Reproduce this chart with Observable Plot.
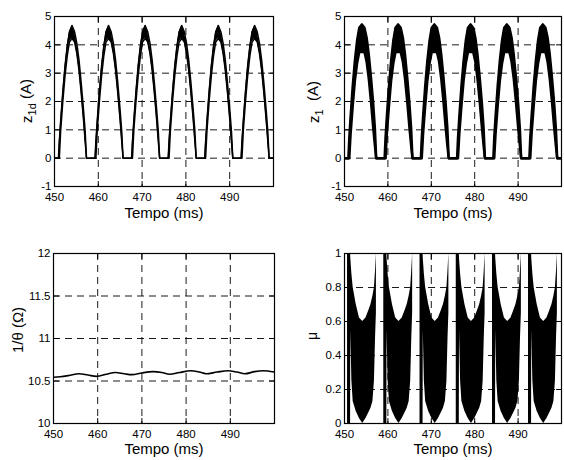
<!DOCTYPE html>
<html><head><meta charset="utf-8">
<script src="https://cdn.jsdelivr.net/npm/d3@7"></script>
<script src="https://cdn.jsdelivr.net/npm/@observablehq/plot@0.6"></script>
<style>
body{margin:0;background:#fff;}
#wrap{position:relative;width:564px;height:460px;font-family:"Liberation Sans",Arial,sans-serif;}
.cell{position:absolute;width:282px;height:230px;}
.cell svg{overflow:visible;display:block;}
</style></head><body><div id="wrap"></div>
<script>
// ---------- axes ----------
const xTicks = [450, 460, 470, 480, 490];
const xGrid = [460, 470, 480, 490];
const xLabel = "Tempo (ms)";
const zTicks = [-1, 0, 1, 2, 3, 4, 5];
const zGrid = [0, 1, 2, 3, 4];
const thetaTicks = [10, 10.5, 11, 11.5, 12];
const thetaGrid = [10.5, 11, 11.5];
const muTicks = [0, 0.2, 0.4, 0.6, 0.8, 1];
const muGrid = [0.2, 0.4, 0.6, 0.8];

// ---------- z1d and z1 (upper / lower envelope of ripple band) ----------
const zT = [450,
 450.9,451.1,451.4,451.9,452.4,452.9,453.4,454.0,454.6,455.1,455.6,456.1,456.6,457.0,457.3,
 459.25,459.45,459.75,460.25,460.75,461.25,461.75,462.35,462.95,463.45,463.95,464.45,464.95,465.35,465.65,
 467.6,467.8,468.1,468.6,469.1,469.6,470.1,470.7,471.3,471.8,472.3,472.8,473.3,473.7,474.0,
 475.95,476.15,476.45,476.95,477.45,477.95,478.45,479.05,479.65,480.15,480.65,481.15,481.65,482.05,482.35,
 484.3,484.5,484.8,485.3,485.8,486.3,486.8,487.4,488.0,488.5,489.0,489.5,490.0,490.4,490.7,
 492.6,492.8,493.1,493.6,494.1,494.6,495.1,495.7,496.3,496.8,497.3,497.8,498.3,498.7,499.0,
 500];
const z1dHi = [0,
 0,0.6,1.3,2.35,3.25,3.95,4.45,4.68,4.45,4.05,3.45,2.65,1.75,0.95,0,
 0,0.6,1.3,2.35,3.25,3.95,4.45,4.68,4.45,4.05,3.45,2.65,1.75,0.95,0,
 0,0.6,1.3,2.35,3.25,3.95,4.45,4.68,4.45,4.05,3.45,2.65,1.75,0.95,0,
 0,0.6,1.3,2.35,3.25,3.95,4.45,4.68,4.45,4.05,3.45,2.65,1.75,0.95,0,
 0,0.6,1.3,2.35,3.25,3.95,4.45,4.68,4.45,4.05,3.45,2.65,1.75,0.95,0,
 0,0.6,1.3,2.35,3.25,3.95,4.45,4.68,4.45,4.05,3.45,2.65,1.75,0.95,0,
 0];
const z1dLo = [0,
 0,0,0.95,2.0,2.9,3.6,4.1,4.22,4.1,3.7,3.1,2.3,1.4,0.6,0,
 0,0,0.95,2.0,2.9,3.6,4.1,4.22,4.1,3.7,3.1,2.3,1.4,0.6,0,
 0,0,0.95,2.0,2.9,3.6,4.1,4.22,4.1,3.7,3.1,2.3,1.4,0.6,0,
 0,0,0.95,2.0,2.9,3.6,4.1,4.22,4.1,3.7,3.1,2.3,1.4,0.6,0,
 0,0,0.95,2.0,2.9,3.6,4.1,4.22,4.1,3.7,3.1,2.3,1.4,0.6,0,
 0,0,0.95,2.0,2.9,3.6,4.1,4.22,4.1,3.7,3.1,2.3,1.4,0.6,0,
 0];
const z1Hi = [0,
 0,0.7,1.45,2.55,3.45,4.15,4.6,4.72,4.6,4.25,3.65,2.85,1.95,1.05,0,
 0,0.7,1.45,2.55,3.45,4.15,4.6,4.72,4.6,4.25,3.65,2.85,1.95,1.05,0,
 0,0.7,1.45,2.55,3.45,4.15,4.6,4.72,4.6,4.25,3.65,2.85,1.95,1.05,0,
 0,0.7,1.45,2.55,3.45,4.15,4.6,4.72,4.6,4.25,3.65,2.85,1.95,1.05,0,
 0,0.7,1.45,2.55,3.45,4.15,4.6,4.72,4.6,4.25,3.65,2.85,1.95,1.05,0,
 0,0.7,1.45,2.55,3.45,4.15,4.6,4.72,4.6,4.25,3.65,2.85,1.95,1.05,0,
 0];
const z1Lo = [0,
 0,0,0.85,1.85,2.75,3.35,3.75,3.75,3.75,3.4,2.8,2.0,1.1,0.45,0,
 0,0,0.85,1.85,2.75,3.35,3.75,3.75,3.75,3.4,2.8,2.0,1.1,0.45,0,
 0,0,0.85,1.85,2.75,3.35,3.75,3.75,3.75,3.4,2.8,2.0,1.1,0.45,0,
 0,0,0.85,1.85,2.75,3.35,3.75,3.75,3.75,3.4,2.8,2.0,1.1,0.45,0,
 0,0,0.85,1.85,2.75,3.35,3.75,3.75,3.75,3.4,2.8,2.0,1.1,0.45,0,
 0,0,0.85,1.85,2.75,3.35,3.75,3.75,3.75,3.4,2.8,2.0,1.1,0.45,0,
 0];

// ---------- 1/theta ----------
const thetaT = [450,451.5,453.5,455.7,457.8,459.8,462,464,466,467.8,470,472.5,474.5,476.2,478.5,481,483,484.5,487,489.5,491.5,493.3,495.5,497.5,500];
const thetaV = [10.545,10.55,10.565,10.585,10.57,10.555,10.58,10.6,10.585,10.575,10.595,10.61,10.6,10.58,10.6,10.62,10.605,10.585,10.605,10.62,10.605,10.585,10.61,10.62,10.605];

// ---------- mu (switching band: lower / upper envelope per pulse) ----------
const muT = [
 450.7,451.4,451.45,451.7,452.0,452.7,453.45,454.2,454.95,455.55,456.1,456.55,456.9,457.15,457.35,
 459.05,459.75,459.8,460.05,460.35,461.05,461.8,462.55,463.3,463.9,464.45,464.9,465.25,465.5,465.7,
 467.4,468.1,468.15,468.4,468.7,469.4,470.15,470.9,471.65,472.25,472.8,473.25,473.6,473.85,474.05,
 475.75,476.45,476.5,476.75,477.05,477.75,478.5,479.25,480.0,480.6,481.15,481.6,481.95,482.2,482.4,
 484.1,484.8,484.85,485.1,485.4,486.1,486.85,487.6,488.35,488.95,489.5,489.95,490.3,490.55,490.75,
 492.4,493.1,493.15,493.4,493.7,494.4,495.15,495.9,496.65,497.25,497.8,498.25,498.6,498.85,499.05];
const muHi = [
 1,1,0.97,0.88,0.8,0.7,0.62,0.6,0.62,0.66,0.7,0.75,0.8,0.9,1,
 1,1,0.97,0.88,0.8,0.7,0.62,0.6,0.62,0.66,0.7,0.75,0.8,0.9,1,
 1,1,0.97,0.88,0.8,0.7,0.62,0.6,0.62,0.66,0.7,0.75,0.8,0.9,1,
 1,1,0.97,0.88,0.8,0.7,0.62,0.6,0.62,0.66,0.7,0.75,0.8,0.9,1,
 1,1,0.97,0.88,0.8,0.7,0.62,0.6,0.62,0.66,0.7,0.75,0.8,0.9,1,
 1,1,0.97,0.88,0.8,0.7,0.62,0.6,0.62,0.66,0.7,0.75,0.8,0.9,1];
const muLo = [
 0,0,0.55,0.25,0.13,0.07,0.03,0,0.03,0.06,0.09,0.13,0.25,0.5,0.65,
 0,0,0.55,0.25,0.13,0.07,0.03,0,0.03,0.06,0.09,0.13,0.25,0.5,0.65,
 0,0,0.55,0.25,0.13,0.07,0.03,0,0.03,0.06,0.09,0.13,0.25,0.5,0.65,
 0,0,0.55,0.25,0.13,0.07,0.03,0,0.03,0.06,0.09,0.13,0.25,0.5,0.65,
 0,0,0.55,0.25,0.13,0.07,0.03,0,0.03,0.06,0.09,0.13,0.25,0.5,0.65,
 0,0,0.55,0.25,0.13,0.07,0.03,0,0.03,0.06,0.09,0.13,0.25,0.5,0.65];
const muPulse = [
 1,1,1,1,1,1,1,1,1,1,1,1,1,1,1,
 2,2,2,2,2,2,2,2,2,2,2,2,2,2,2,
 3,3,3,3,3,3,3,3,3,3,3,3,3,3,3,
 4,4,4,4,4,4,4,4,4,4,4,4,4,4,4,
 5,5,5,5,5,5,5,5,5,5,5,5,5,5,5,
 6,6,6,6,6,6,6,6,6,6,6,6,6,6,6];

// ---------- drawing ----------
const FONT = 'Arial, "Liberation Sans", Helvetica, sans-serif';
const tickShape = {draw(ctx, l) { ctx.moveTo(0, 0); ctx.lineTo(0, -l); }};
const dash = {stroke: "black", strokeOpacity: 1, strokeWidth: 0.9, strokeDasharray: "7,5"};
const tk = {stroke: "black", strokeWidth: 1, length: 5, anchor: "start", shape: tickShape};

function panel({left, top, mL, mR, mT, mB, yDomain, yTicks, yGrid, dataMarks, xlabDy, ylab}) {
  const div = document.createElement("div");
  div.className = "cell";
  div.style.left = left + "px";
  div.style.top = top + "px";
  const svg = Plot.plot({
    width: 282, height: 230,
    marginLeft: mL, marginRight: mR, marginTop: mT, marginBottom: mB,
    style: {fontFamily: FONT, fontSize: "12px", color: "black", background: "transparent", overflow: "visible"},
    x: {domain: [450, 500], axis: null},
    y: {domain: yDomain, axis: null},
    marks: [
      Plot.gridX(xGrid, dash),
      Plot.gridY(yGrid, dash),
      ...dataMarks,
      Plot.vector(xGrid, {x: d => d, frameAnchor: "bottom", rotate: 0, ...tk}),
      Plot.vector(xGrid, {x: d => d, frameAnchor: "top", rotate: 180, ...tk}),
      Plot.vector(yGrid, {y: d => d, frameAnchor: "left", rotate: 90, ...tk}),
      Plot.vector(yGrid, {y: d => d, frameAnchor: "right", rotate: -90, ...tk}),
      Plot.frame({stroke: "black", strokeWidth: 1.2}),
      Plot.axisX(xTicks, {anchor: "bottom", tickSize: 0, tickPadding: 6, fontSize: 11.5, label: null, tickFormat: d => `${d}`}),
      Plot.axisY(yTicks, {anchor: "left", tickSize: 0, tickPadding: 3, fontSize: 11.5, label: null, tickFormat: d => `${d}`}),
      Plot.text([xLabel], {text: d => d, frameAnchor: "bottom", dy: xlabDy, lineAnchor: "top", fontSize: 15})
    ]
  });
  const t = d3.select(svg).append("text")
    .attr("transform", `translate(${ylab.x},${ylab.y}) rotate(-90)`)
    .attr("text-anchor", "middle")
    .attr("font-family", FONT)
    .attr("font-size", ylab.size || 15)
    .attr("fill", "black");
  for (const p of ylab.parts) {
    const s = t.append("tspan").text(p.t);
    if (p.sub) s.attr("font-size", 11).attr("dy", "0.35em");
    if (p.back) s.attr("dy", "-0.35em");
  }
  div.appendChild(svg);
  document.getElementById("wrap").appendChild(div);
}

const clip = {clip: true};

panel({left: 0, top: 0, mL: 54, mR: 9, mT: 16, mB: 44, yDomain: [-1, 5], yTicks: zTicks, yGrid: zGrid, xlabDy: 21,
  ylab: {x: 32, y: 101, parts: [{t: "z"}, {t: "1d", sub: true}, {t: " (A)", back: true}]},
  dataMarks: [
    Plot.areaY(zT, {x: zT, y1: z1dLo, y2: z1dHi, fill: "black", ...clip}),
    Plot.lineY(zT, {x: zT, y: z1dHi, stroke: "black", strokeWidth: 1.5, ...clip}),
    Plot.lineY(zT, {x: zT, y: z1dLo, stroke: "black", strokeWidth: 1.5, ...clip})
  ]});

panel({left: 282, top: 0, mL: 62, mR: 3, mT: 16, mB: 44, yDomain: [-1, 5], yTicks: zTicks, yGrid: zGrid, xlabDy: 21,
  ylab: {x: 37, y: 102, parts: [{t: "z"}, {t: "1", sub: true}, {t: "  (A)", back: true}]},
  dataMarks: [
    Plot.areaY(zT, {x: zT, y1: z1Lo, y2: z1Hi, fill: "black", ...clip}),
    Plot.lineY(zT, {x: zT, y: z1Hi, stroke: "black", strokeWidth: 2.5, ...clip}),
    Plot.lineY(zT, {x: zT, y: z1Lo, stroke: "black", strokeWidth: 2.5, ...clip})
  ]});

panel({left: 0, top: 230, mL: 53, mR: 8, mT: 23, mB: 37, yDomain: [10, 12], yTicks: thetaTicks, yGrid: thetaGrid, xlabDy: 20,
  ylab: {x: 23, y: 100, parts: [{t: "1/θ (Ω)"}]},
  dataMarks: [
    Plot.lineY(thetaT, {x: thetaT, y: thetaV, stroke: "black", strokeWidth: 1.6, curve: "catmull-rom", ...clip})
  ]});

panel({left: 282, top: 230, mL: 62, mR: 3, mT: 23, mB: 37, yDomain: [0, 1], yTicks: muTicks, yGrid: muGrid, xlabDy: 20,
  ylab: {x: 35, y: 106, size: 14, parts: [{t: "μ"}]},
  dataMarks: [
    Plot.areaY(muT, {x: muT, y1: muLo, y2: muHi, z: muPulse, fill: "black", ...clip})
  ]});
</script>
</body></html>
